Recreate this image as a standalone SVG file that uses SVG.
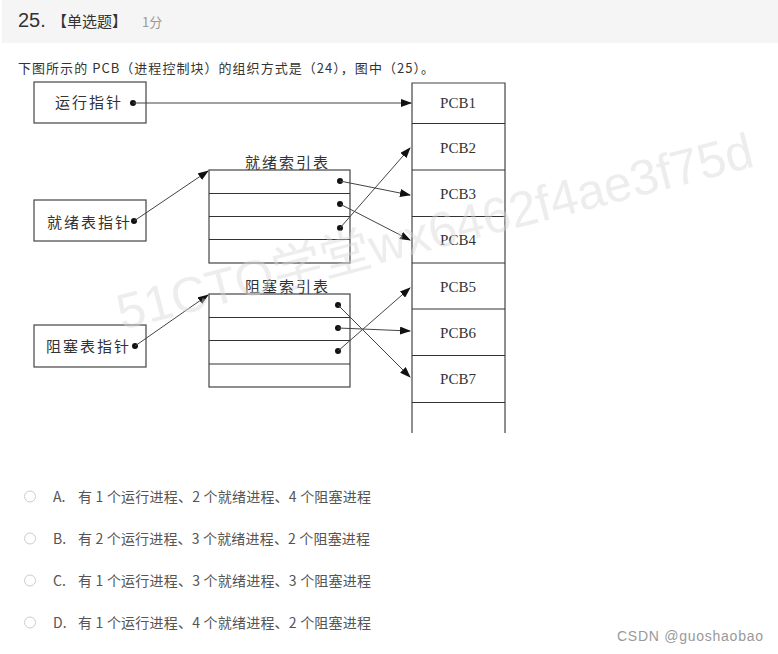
<svg xmlns="http://www.w3.org/2000/svg" width="778" height="654" viewBox="0 0 778 654">
<style>
.cjk{font-family:"Noto Sans CJK SC","Noto Sans",sans-serif}
.lbl{font-family:"Noto Sans CJK SC",sans-serif;font-size:15px;fill:#333;letter-spacing:2px}
.pcb{font-family:"Liberation Serif","Noto Sans CJK SC",serif;font-size:15px;fill:#333;text-anchor:middle}
.box{fill:#fff;stroke:#444;stroke-width:1.2}
.ln{stroke:#333;stroke-width:1;fill:none}
.ar{stroke:#444;stroke-width:1;fill:none;marker-end:url(#ah)}
.opt{font-family:"Noto Sans CJK SC","Noto Sans",sans-serif;font-size:14px;fill:#555}
</style>
<defs>
<marker id="ah" markerWidth="11" markerHeight="8" refX="10" refY="4" orient="auto" markerUnits="userSpaceOnUse">
<path d="M0,0 L11,4 L0,8 Z" fill="#111"/>
</marker>
</defs>
<rect width="778" height="654" fill="#fff"/>
<rect x="2" y="0" width="776" height="43" fill="#f5f5f5"/>
<text x="18" y="27" font-family="Liberation Sans,sans-serif" font-size="20" fill="#333">25.</text>
<text x="52" y="27" class="cjk" font-size="15" fill="#333">【单选题】</text>
<text x="142" y="27" class="cjk" font-size="13" fill="#999">1分</text>
<text x="18" y="73" class="cjk" font-size="13" fill="#333" textLength="416" lengthAdjust="spacing">下图所示的 PCB（进程控制块）的组织方式是（24），图中（25）。</text>

<g id="running-ptr">
<rect class="box" x="34" y="82" width="112" height="41"/>
<text class="lbl" x="55" y="108">运行指针</text>
<circle cx="133" cy="103" r="3" fill="#111"/>
</g>
<g id="ready-ptr">
<rect class="box" x="34" y="200" width="112" height="41"/>
<text class="lbl" x="47" y="228">就绪表指针</text>
<circle cx="134" cy="221" r="3" fill="#111"/>
</g>
<g id="blocked-ptr">
<rect class="box" x="34" y="325" width="112" height="42"/>
<text class="lbl" x="46" y="352">阻塞表指针</text>
<circle cx="135" cy="346" r="3" fill="#111"/>
</g>
<g id="ready-index">
<text class="lbl" x="245" y="168">就绪索引表</text>
<rect class="box" x="209" y="170" width="141" height="93"/>
<path class="ln" d="M209,193.5H350M209,216.5H350M209,239.5H350"/>
<circle cx="340" cy="181" r="3" fill="#111"/>
<circle cx="340" cy="204" r="3" fill="#111"/>
<circle cx="340" cy="228" r="3" fill="#111"/>
</g>
<g id="blocked-index">
<text class="lbl" x="245" y="292">阻塞索引表</text>
<rect class="box" x="209" y="294" width="141" height="93"/>
<path class="ln" d="M209,317.5H350M209,340.5H350M209,364H350"/>
<circle cx="338" cy="305" r="3" fill="#111"/>
<circle cx="338" cy="328" r="3" fill="#111"/>
<circle cx="338" cy="351" r="3" fill="#111"/>
</g>
<g id="pcb-list">
<path d="M412,433V83H505V433" fill="#fff" stroke="#444" stroke-width="1.2"/>
<path class="ln" d="M412,123.5H505M412,170H505M412,216.5H505M412,263H505M412,309H505M412,355.5H505M412,402.5H505"/>
<text class="pcb" x="458" y="108">PCB1</text>
<text class="pcb" x="458" y="153">PCB2</text>
<text class="pcb" x="458" y="199">PCB3</text>
<text class="pcb" x="458" y="245">PCB4</text>
<text class="pcb" x="458" y="292">PCB5</text>
<text class="pcb" x="458" y="338">PCB6</text>
<text class="pcb" x="458" y="384">PCB7</text>
</g>
<g id="connectors">
<line class="ar" x1="133" y1="103" x2="411" y2="103"/>
<line class="ar" x1="134" y1="221" x2="208" y2="171"/>
<line class="ar" x1="135" y1="346" x2="208" y2="295"/>
<line class="ar" x1="340" y1="181" x2="410" y2="195"/>
<line class="ar" x1="340" y1="204" x2="410" y2="240"/>
<line class="ar" x1="340" y1="228" x2="410" y2="148"/>
<line class="ar" x1="338" y1="305" x2="410" y2="377"/>
<line class="ar" x1="338" y1="328" x2="410" y2="331"/>
<line class="ar" x1="338" y1="351" x2="410" y2="288"/>
</g>

<text x="122" y="330" transform="rotate(-14.5 122 330)" font-family="Liberation Sans,'Noto Sans CJK SC',sans-serif" font-size="50" fill="#d8d8d8" fill-opacity="0.45">51CTO学堂wx6462f4ae3f75d</text>

<g id="options">
<circle cx="30" cy="496.5" r="5.5" fill="#fff" stroke="#ccc"/>
<circle cx="30" cy="538.5" r="5.5" fill="#fff" stroke="#ccc"/>
<circle cx="30" cy="580.5" r="5.5" fill="#fff" stroke="#ccc"/>
<circle cx="30" cy="622.5" r="5.5" fill="#fff" stroke="#ccc"/>
<text class="opt" x="53" y="502">A.</text>
<text class="opt" x="78" y="502" textLength="293" lengthAdjust="spacing">有 1 个运行进程、2 个就绪进程、4 个阻塞进程</text>
<text class="opt" x="53" y="544">B.</text>
<text class="opt" x="78" y="544" textLength="292" lengthAdjust="spacing">有 2 个运行进程、3 个就绪进程、2 个阻塞进程</text>
<text class="opt" x="53" y="586">C.</text>
<text class="opt" x="78" y="586" textLength="293" lengthAdjust="spacing">有 1 个运行进程、3 个就绪进程、3 个阻塞进程</text>
<text class="opt" x="53" y="628">D.</text>
<text class="opt" x="78" y="628" textLength="293" lengthAdjust="spacing">有 1 个运行进程、4 个就绪进程、2 个阻塞进程</text>
</g>
<text x="617" y="641" font-family="Liberation Sans,sans-serif" font-size="14" fill="#999" textLength="146" lengthAdjust="spacing">CSDN @guoshaobao</text>
</svg>
